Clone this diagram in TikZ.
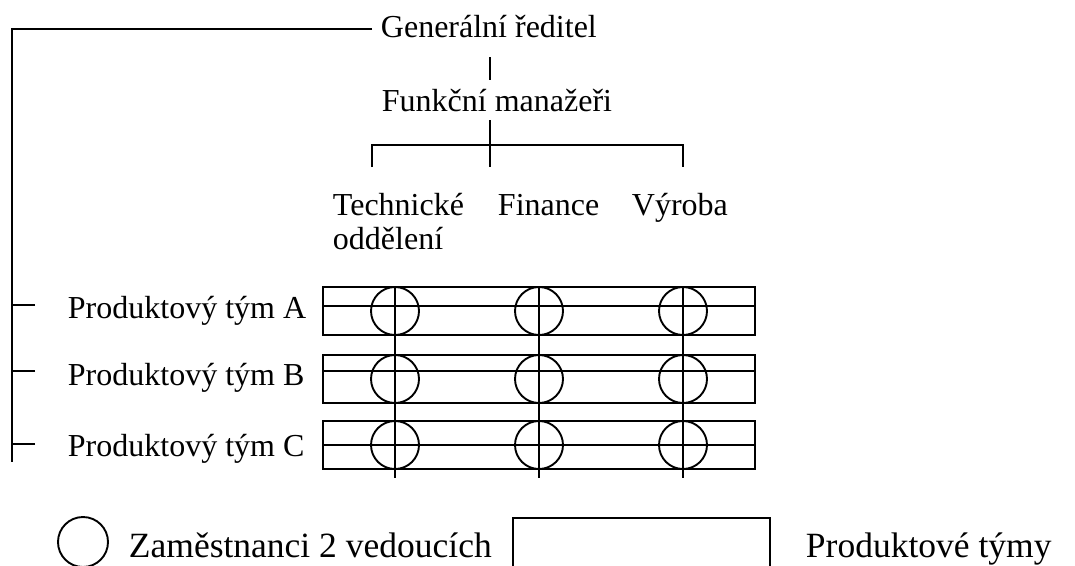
\documentclass[tikz,border=0pt]{standalone}
\usepackage{fontspec}
\setmainfont{Liberation Serif}
\begin{document}
\begin{tikzpicture}[x=1pt,y=-1pt,line width=1.9pt,
  lbl/.style={font=\fontsize{32}{38}\selectfont,inner sep=0pt,anchor=base west},
  leg/.style={font=\fontsize{35.5}{42}\selectfont,inner sep=0pt,anchor=base west},
  team/.style={draw,rectangle,minimum width=432pt,minimum height=48pt,inner sep=0pt},
  emp/.style={draw,circle,minimum size=48pt,inner sep=0pt},
  link/.style={draw,line width=1.9pt}]
\useasboundingbox (0,0) rectangle (1075,565);

% texts
\node[lbl] (gr) at (380,37) {Generální ředitel};
\node[lbl] (fm) at (381,111) {Funkční manažeři};
\node[lbl] (te) at (332,215) {Technické};
\node[lbl] (od) at (332,249) {oddělení};
\node[lbl] (fi) at (497,215) {Finance};
\node[lbl] (vy) at (631,215) {Výroba};
\node[lbl] (pa) at (67,318) {Produktový tým A};
\node[lbl] (pb) at (67,385) {Produktový tým B};
\node[lbl] (pc) at (67,456) {Produktový tým C};

% CEO line and left spine
\coordinate (c0) at (372,29);
\coordinate (c1) at (12,29);
\coordinate (c2) at (12,462);
\path[link] (c0) -- (c1) -- (c2);
\coordinate (ta) at (35,305);
\coordinate (tb) at (35,371);
\coordinate (tc) at (35,444);
\path[link] (ta) -- (ta -| c1);
\path[link] (tb) -- (tb -| c1);
\path[link] (tc) -- (tc -| c1);

% vertical links to functional managers
\coordinate (v1a) at (490,57);
\coordinate (v1b) at (490,80);
\path[link] (v1a) -- (v1b);
\coordinate (v2a) at (490,120);
\coordinate (v2b) at (490,167);
\path[link] (v2a) -- (v2b);
\coordinate (bl) at (372,167);
\coordinate (br) at (683,167);
\path[link] (bl) -- (372,145) -- (683,145) -- (br);

% team rectangles
\node[team] (ra) at (539,311) {};
\node[team] (rb) at (539,379) {};
\node[team] (rc) at (539,445) {};
\path[link] (ra.west |- 0,306) -- (ra.east |- 0,306);
\path[link] (rb.west |- 0,371) -- (rb.east |- 0,371);
\path[link] (rc.west |- 0,445) -- (rc.east |- 0,445);

% circles
\foreach \x/\n in {395/1,539/2,683/3}{
  \node[emp] (ea\n) at (\x,311) {};
  \node[emp] (eb\n) at (\x,379) {};
  \node[emp] (ec\n) at (\x,445) {};
  \coordinate (ct\n) at (\x,287);
  \coordinate (cb\n) at (\x,478);
  \path[link] (ct\n) -- (cb\n);
}

% legend
\node[draw,circle,minimum size=50pt,inner sep=0pt] (lc) at (83,542) {};
\node[leg] (lt1) at (128,557) {Zaměstnanci 2 vedoucích};
\node[draw,rectangle,minimum width=257pt,minimum height=80pt,inner sep=0pt] (lr) at (641.5,558) {};
\node[leg] (lt2) at (805,557) {Produktové týmy};
\end{tikzpicture}
\end{document}
